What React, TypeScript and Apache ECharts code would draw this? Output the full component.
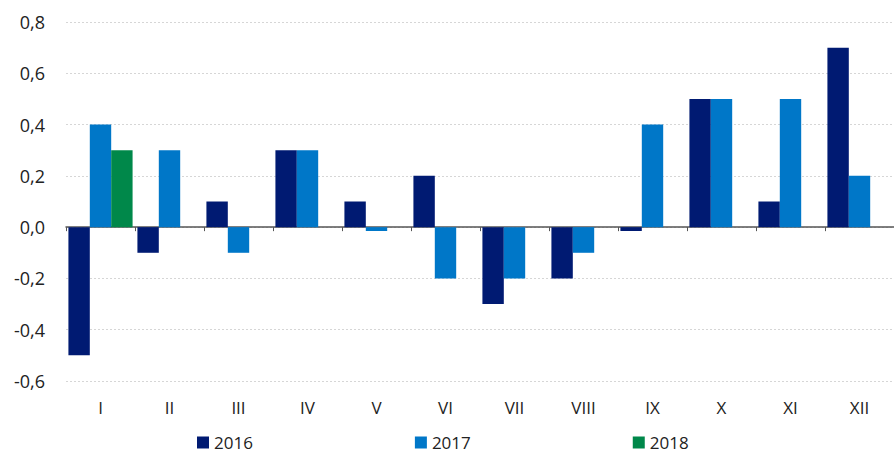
import React, { useEffect, useRef } from "react";
import * as echarts from "echarts";

const categories = ["I", "II", "III", "IV", "V", "VI", "VII", "VIII", "IX", "X", "XI", "XII"];
const s2016 = [-0.5, -0.1, 0.1, 0.3, 0.1, 0.2, -0.3, -0.2, -0.015, 0.5, 0.1, 0.7];
const s2017 = [0.4, 0.3, -0.1, 0.3, -0.015, -0.2, -0.2, -0.1, 0.4, 0.5, 0.5, 0.2];
const s2018 = [0.3, null, null, null, null, null, null, null, null, null, null, null];
const seriesNames = ["2016", "2017", "2018"];
const colors = ["#001a72", "#0077c8", "#00884a"];

export default function App() {
  const ref = useRef<HTMLDivElement>(null);
  useEffect(() => {
    if (!ref.current) return;
    const chart = echarts.init(ref.current, null, { renderer: "svg" });
    const font = "'Open Sans', sans-serif";
    chart.setOption({
      animation: false,
      color: colors,
      textStyle: { fontFamily: font },
      grid: { left: 66, right: 0, top: 22, bottom: 72 },
      legend: {
        left: 192,
        top: 429,
        padding: [5, 5, 0, 5],
        itemWidth: 12,
        itemHeight: 12,
        itemGap: 162,
        icon: "rect",
        textStyle: { fontSize: 17, lineHeight: 17, color: "#222", fontFamily: font },
        data: seriesNames,
      },
      xAxis: [
        {
          type: "category",
          data: categories,
          axisLine: { onZero: true, lineStyle: { color: "#555", width: 1.5 } },
          axisTick: { show: true, length: 4, lineStyle: { color: "#555" } },
          axisLabel: { show: false },
        },
        {
          type: "category",
          data: categories,
          position: "bottom",
          axisLine: { show: false, onZero: false },
          axisTick: { show: false },
          axisLabel: { show: true, margin: 18, fontSize: 17, color: "#222", fontFamily: font },
        },
      ],
      yAxis: {
        type: "value",
        min: -0.6,
        max: 0.8,
        interval: 0.2,
        axisLine: { show: false },
        axisTick: { show: false },
        axisLabel: {
          fontSize: 18,
          color: "#222",
          margin: 21,
          fontFamily: font,
          formatter: (v: number) => v.toFixed(1).replace(".", ","),
        },
        splitLine: { lineStyle: { color: "#d6d6d6", type: [2, 2], width: 1 } },
      },
      series: [
        { name: seriesNames[0], type: "bar", data: s2016, barGap: "0%", barCategoryGap: "7%" },
        { name: seriesNames[1], type: "bar", data: s2017, barGap: "0%", barCategoryGap: "7%" },
        { name: seriesNames[2], type: "bar", data: s2018, barGap: "0%", barCategoryGap: "7%" },
      ],
    });
    return () => chart.dispose();
  }, []);
  return (
    <div
      ref={ref}
      style={{ position: "fixed", left: 0, top: 0, width: 894, height: 453, background: "#fff" }}
    />
  );
}
